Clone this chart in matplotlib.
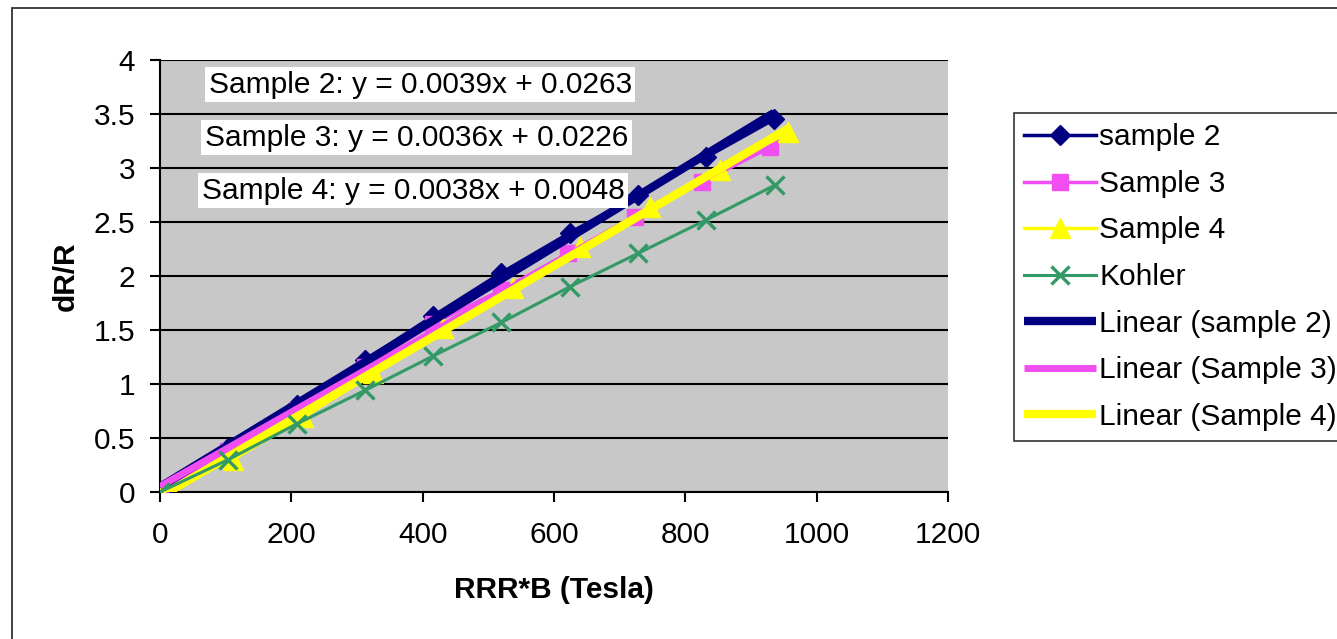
import matplotlib
matplotlib.use("Agg")
import matplotlib.pyplot as plt
import numpy as np
from matplotlib.patches import Rectangle

plt.rcParams["font.family"] = ["Liberation Sans", "DejaVu Sans"]

# ---------------------------------------------------------------------------
# Data
# ---------------------------------------------------------------------------
x_s2 = [0, 104, 208, 312, 416, 520, 624, 728, 832, 935]
y_s2 = [0, 0.41, 0.81, 1.22, 1.63, 2.03, 2.40, 2.75, 3.10, 3.45]

x_s3 = [0, 104, 208, 312, 416, 520, 621, 723, 825, 929]
y_s3 = [0, 0.38, 0.76, 1.16, 1.56, 1.87, 2.21, 2.55, 2.87, 3.19]

x_s4 = [0, 111, 218, 324, 431, 537, 640, 746, 853, 956]
y_s4 = [0, 0.30, 0.69, 1.10, 1.52, 1.89, 2.27, 2.64, 2.98, 3.33]

x_k = [0, 104, 208, 312, 416, 520, 624, 728, 832, 936]
y_k = [0, 0.30, 0.63, 0.94, 1.26, 1.57, 1.90, 2.21, 2.52, 2.84]

eq_labels = [
    "Sample 2: y = 0.0039x + 0.0263",
    "Sample 3: y = 0.0036x + 0.0226",
    "Sample 4: y = 0.0038x + 0.0048",
]

NAVY = "#000080"
PINK = "#F04EF0"
YELLOW = "#FFFF00"
GREEN = "#339966"
FS = 21.5

W, H = 1337, 639
fig = plt.figure(figsize=(W / 100, H / 100), dpi=100)
fig.patch.set_facecolor("white")
ax = fig.add_axes([160 / W, 1 - 492 / H, (948 - 160) / W, (492 - 60) / H])
ax.set_facecolor("#C8C8C8")

# outer chart frame
fig.add_artist(Rectangle((12 / W, -0.05), 1.2, 1 - 8 / H + 0.05,
                         transform=fig.transFigure, fill=False,
                         lw=1.3, ec="#333333"))

# data series
ax.plot(x_s2, y_s2, color=NAVY, lw=2.5, marker="D", ms=10.5, zorder=3,
        label="sample 2")
ax.plot(x_s3, y_s3, color=PINK, lw=2.5, marker="s", ms=12, zorder=3,
        label="Sample 3")
ax.plot(x_s4, y_s4, color=YELLOW, lw=2.5, marker="^", ms=14, zorder=3,
        label="Sample 4")

# linear trendlines
for xs, ys, col, lw, lab in [
    (x_s2, y_s2, NAVY, 6, "Linear (sample 2)"),
    (x_s3, y_s3, PINK, 5, "Linear (Sample 3)"),
    (x_s4, y_s4, YELLOW, 6, "Linear (Sample 4)"),
]:
    m, b = np.polyfit(xs, ys, 1)
    xx = np.array([0, max(xs)])
    ax.plot(xx, m * xx + b, color=col, lw=lw, zorder=4, label=lab,
            solid_capstyle="butt")

ax.plot(x_k, y_k, color=GREEN, lw=2.2, marker="x", ms=13, mew=2.4,
        zorder=5, label="Kohler")

# axes styling
ax.set_xlim(0, 1200)
ax.set_ylim(0, 4)
ax.set_xticks(np.arange(0, 1201, 200))
ax.set_yticks(np.arange(0, 4.01, 0.5))
ax.set_yticklabels(["0", "0.5", "1", "1.5", "2", "2.5", "3", "3.5", "4"])
ax.grid(axis="y", color="black", lw=1.5)
ax.set_axisbelow(True)
for s in ("top", "right"):
    ax.spines[s].set_visible(False)
for s in ("left", "bottom"):
    ax.spines[s].set_color("black")
    ax.spines[s].set_linewidth(1.5)
ax.tick_params(axis="both", direction="out", length=7, width=1.5,
               labelsize=FS, colors="black")
ax.tick_params(axis="x", pad=14)
ax.tick_params(axis="y", pad=11)
ax.set_xlabel("RRR*B (Tesla)", fontsize=FS, fontweight="bold", labelpad=19)
ax.set_ylabel("dR/R", fontsize=FS, fontweight="bold", labelpad=10)

# trendline equations
for (tx, ty), txt in zip([(74, 3.77), (68, 3.28), (64, 2.79)], eq_labels):
    ax.text(tx, ty, txt, fontsize=FS, va="center", ha="left", zorder=6,
            bbox=dict(boxstyle="square,pad=0.12", fc="white", ec="none"))

# legend in Excel order
handles, labels = ax.get_legend_handles_labels()
order = ["sample 2", "Sample 3", "Sample 4", "Kohler",
         "Linear (sample 2)", "Linear (Sample 3)", "Linear (Sample 4)"]
hmap = dict(zip(labels, handles))
leg = fig.legend([hmap[k] for k in order], order, loc="upper left",
                 bbox_to_anchor=(1014 / W, 1 - 113 / H), fontsize=FS,
                 frameon=True, fancybox=False, edgecolor="black",
                 handlelength=2.4, handletextpad=0.1, labelspacing=0.62,
                 borderpad=0.35, borderaxespad=0)
leg.get_frame().set_linewidth(1.2)

fig.savefig("out.png", dpi=100, facecolor="white")
